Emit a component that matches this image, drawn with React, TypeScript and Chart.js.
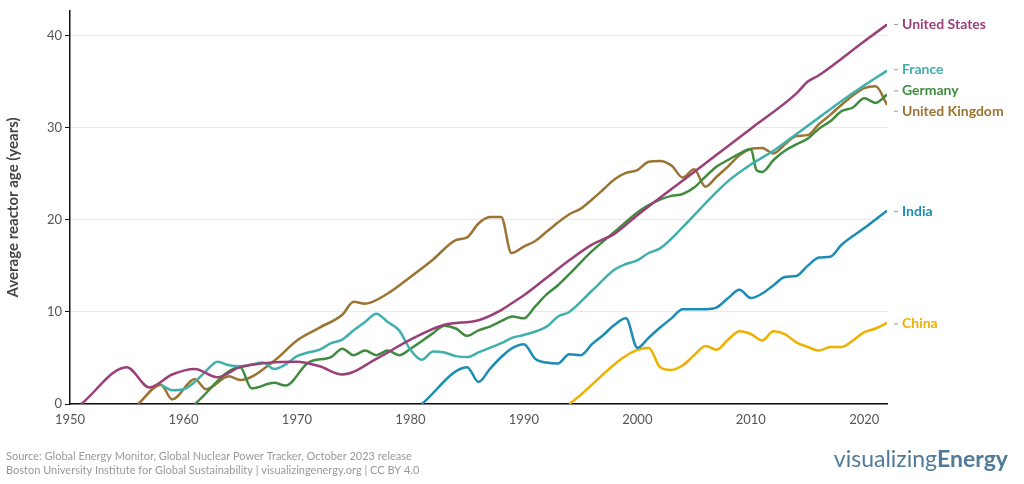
import React, { useEffect, useRef } from "react";
import { Chart, registerables } from "chart.js";
Chart.register(...registerables);

const usYears = [1951,1955,1957,1959,1961,1963,1965,1970,1972,1974,1977,1980,1983,1986,1988,1989,1990,1992,1994,1996,1998,2000,2005,2010,2014,2015,2016,2020,2022];
const usVals = [0,4.0,1.8,3.2,3.8,2.9,4.0,4.6,4.1,3.2,4.9,7.0,8.6,9.1,10.2,11.0,11.8,13.7,15.6,17.3,18.5,20.5,25.2,29.9,33.7,35.0,35.7,39.4,41.2];

const ukYears = [1956,1958,1959,1961,1962,1964,1965,1968,1970,1972,1974,1975,1976,1978,1980,1982,1984,1985,1986,1987,1988,1988.9,1990,1991,1992,1993,1994,1995,1996,1997,1998,1999,2000,2001,2002,2003,2004,2005,2006,2007,2008,2009,2010,2011,2012,2013,2014,2015,2016,2017,2018,2019,2020,2021,2022];
const ukVals = [0,2.1,0.5,2.7,1.6,3.0,2.6,4.7,6.9,8.3,9.7,11.1,10.9,12.0,13.8,15.7,17.8,18.1,19.6,20.3,20.3,16.4,17.1,17.7,18.7,19.7,20.6,21.2,22.2,23.3,24.4,25.1,25.4,26.3,26.4,25.9,24.6,25.5,23.6,24.7,25.8,27.0,27.7,27.8,27.2,28.2,29.1,29.2,30.4,31.4,32.5,33.5,34.3,34.5,32.5];

const deYears = [1961,1965,1966,1968,1969,1971,1973,1974,1975,1976,1977,1978,1979,1980,1982,1983,1984,1985,1986,1987,1988,1989,1990,1991,1992,1993,1994,1996,1998,2000,2001,2002,2003,2004,2005,2006,2007,2008,2009,2010,2010.5,2011,2012,2013,2014,2015,2016,2017,2018,2019,2020,2021,2022];
const deVals = [0,4.0,1.7,2.3,2.0,4.5,5.1,6.0,5.3,5.8,5.3,5.8,5.3,6.0,7.7,8.5,8.2,7.4,8.0,8.4,9.0,9.5,9.3,10.6,11.9,12.9,14.1,16.6,18.7,20.8,21.6,22.2,22.6,22.8,23.5,24.7,25.8,26.5,27.2,27.7,25.4,25.2,26.5,27.5,28.2,28.8,29.9,30.7,31.8,32.2,33.2,32.7,33.6];

const frYears = [1958,1959,1960,1961,1962,1963,1964,1965,1966,1967,1968,1969,1970,1971,1972,1973,1974,1975,1976,1977,1978,1979,1980,1981,1982,1983,1984,1985,1986,1988,1989,1990,1992,1993,1994,1996,1998,1999,2000,2001,2002,2004,2006,2008,2010,2012,2014,2016,2018,2020,2022];
const frVals = [2.1,1.5,1.6,2.4,3.6,4.6,4.2,4.1,4.3,4.5,3.8,4.3,5.2,5.6,5.9,6.6,7.0,8.0,8.9,9.8,8.9,8.0,5.9,4.8,5.7,5.6,5.2,5.1,5.6,6.6,7.2,7.5,8.4,9.5,10.0,12.3,14.6,15.2,15.6,16.4,16.9,19.2,21.8,24.2,26.0,27.5,29.3,31.1,32.9,34.6,36.2];

const inYears = [1981,1985,1986,1987,1988,1989,1990,1991,1992,1993,1994,1995,1996,1997,1998,1999,2000,2001,2002,2003,2004,2005,2006,2007,2008,2009,2010,2011,2012,2013,2014,2015,2016,2017,2018,2020,2022];
const inVals = [0,4.0,2.4,3.8,5.1,6.1,6.5,4.9,4.5,4.4,5.4,5.3,6.5,7.5,8.6,9.3,6.1,7.2,8.3,9.3,10.3,10.3,10.3,10.5,11.5,12.4,11.5,12.0,12.9,13.8,13.9,15.0,15.9,16.0,17.3,19.1,21.0];

const cnYears = [1994,2001,2002,2003,2004,2005,2006,2007,2008,2009,2010,2011,2012,2013,2014,2015,2016,2017,2018,2019,2020,2021,2022];
const cnVals = [0,6.1,4.0,3.7,4.2,5.3,6.3,5.9,7.0,7.9,7.6,6.9,7.9,7.6,6.7,6.2,5.8,6.2,6.2,6.9,7.8,8.2,8.8];

const names = ["United States","France","Germany","United Kingdom","India","China"];
const colors = ["#9b3f78","#40b0ad","#3f8c3f","#9b7431","#1a8db4","#efb000"];
const labelVals = [41.2, 36.3, 34.0, 31.8, 20.9, 8.7];
const xTicks = [1950,1960,1970,1980,1990,2000,2010,2020];
const yTicks = [0,10,20,30,40];

const seriesYears = [usYears, frYears, deYears, ukYears, inYears, cnYears];
const seriesVals = [usVals, frVals, deVals, ukVals, inVals, cnVals];

const FONT = "'Source Sans Pro', Lato, 'Open Sans', sans-serif";

export default function App() {
  const ref = useRef<HTMLCanvasElement>(null);
  useEffect(() => {
    document.body.style.margin = "0";
    const labelPlugin = {
      id: "labels",
      afterDraw(chart: any) {
        const ctx = chart.ctx;
        const y = chart.scales.y;
        const right = chart.chartArea.right;
        ctx.save();
        names.forEach((n, i) => {
          const py = y.getPixelForValue(labelVals[i]);
          ctx.strokeStyle = "#999";
          ctx.lineWidth = 1;
          ctx.beginPath();
          ctx.moveTo(right + 7, py);
          ctx.lineTo(right + 11, py);
          ctx.stroke();
          ctx.fillStyle = colors[i];
          ctx.font = "bold 14px " + FONT;
          ctx.textBaseline = "middle";
          ctx.fillText(n, right + 15, py);
        });
        ctx.fillStyle = "#999";
        ctx.font = "11px " + FONT;
        ctx.textBaseline = "alphabetic";
        ctx.fillText("Source: Global Energy Monitor, Global Nuclear Power Tracker, October 2023 release", 6, 460);
        ctx.fillText("Boston University Institute for Global Sustainability | visualizingenergy.org | CC BY 4.0", 6, 474);
        ctx.fillStyle = "#4f7a9a";
        const a = "visualizing";
        ctx.font = "bold 23px " + FONT;
        const wb = ctx.measureText("Energy").width;
        ctx.font = "23px " + FONT;
        const wa = ctx.measureText(a).width;
        const x0 = 1008 - wa - wb;
        ctx.fillText(a, x0, 467);
        ctx.font = "bold 23px " + FONT;
        ctx.fillText("Energy", x0 + wa, 467);
        ctx.restore();
      },
    };
    const chart = new Chart(ref.current!, {
      type: "line",
      data: {
        datasets: names.map((n, i) => ({
          label: n,
          data: seriesYears[i].map((x, j) => ({ x, y: seriesVals[i][j] })),
          borderColor: colors[i],
          borderWidth: 2.5,
          pointRadius: 0,
          cubicInterpolationMode: "monotone" as const,
          fill: false,
        })),
      },
      options: {
        animation: false,
        responsive: false,
        layout: { padding: { top: 0, right: 137, left: 0, bottom: 0 } },
        plugins: { legend: { display: false }, tooltip: { enabled: false } },
        scales: {
          x: {
            type: "linear",
            min: 1950,
            max: 2022,
            afterBuildTicks: (s: any) => { s.ticks = xTicks.map((v) => ({ value: v })); },
            afterFit: (s: any) => { s.height = 80; },
            ticks: { color: "#555", font: { size: 13, family: FONT }, callback: (v: any) => String(v), maxRotation: 0 },
            grid: { display: false, drawTicks: true, tickLength: 5 },
            border: { color: "#111", width: 1.5 },
          },
          y: {
            min: 0,
            max: 42.7,
            afterBuildTicks: (s: any) => { s.ticks = yTicks.map((v) => ({ value: v })); },
            afterFit: (s: any) => { s.width = 70; },
            ticks: { color: "#555", font: { size: 13, family: FONT } },
            title: { display: true, text: "Average reactor age (years)", color: "#444", font: { size: 15, weight: "bold", family: FONT } },
            grid: { color: "#e8e8e8", tickLength: 5, tickColor: "#111" },
            border: { color: "#111", width: 1.5 },
          },
        },
      },
      plugins: [labelPlugin],
    });
    return () => chart.destroy();
  }, []);
  return (
    <div style={{ width: 1024, height: 484, background: "#fff" }}>
      <canvas ref={ref} width={1024} height={484} style={{ width: 1024, height: 484, display: "block" }} />
    </div>
  );
}
